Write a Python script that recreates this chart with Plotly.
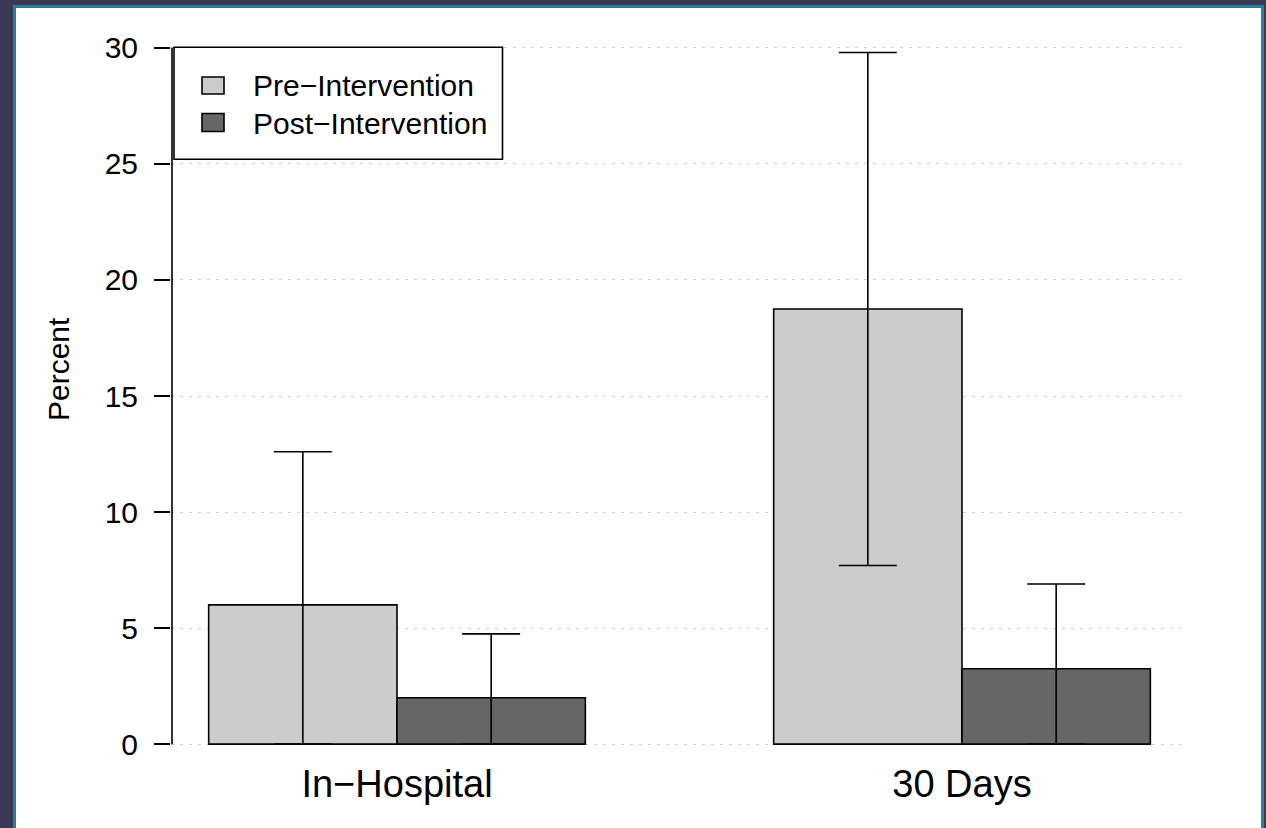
import plotly.graph_objects as go

# ---- data ----
categories = ["In−Hospital", "30 Days"]
series_names = ["Pre−Intervention", "Post−Intervention"]
pre_values = [6.0, 18.75]
pre_lower = [0.0, 7.7]
pre_upper = [12.6, 29.8]
post_values = [2.0, 3.25]
post_lower = [0.0, 0.0]
post_upper = [4.75, 6.9]
y_ticks = [0, 5, 10, 15, 20, 25, 30]
y_label = "Percent"

colors = ["#cccccc", "#666666"]

W, H = 1266, 828
L, R, T, B = 171, 78, 20, 56
PW, PH = W - L - R, H - T - B


def xp(px):
    return (px - L) / PW


def yp(py):
    return 1 - (py - T) / PH


FONT = "Liberation Sans, Arial, sans-serif"
LW = 1.6

fig = go.Figure()
for name, vals, lo, hi, col in [
    (series_names[0], pre_values, pre_lower, pre_upper, colors[0]),
    (series_names[1], post_values, post_lower, post_upper, colors[1]),
]:
    fig.add_trace(go.Bar(
        x=categories, y=vals, name=name,
        marker=dict(color=col, line=dict(color="black", width=LW)),
        error_y=dict(type="data", symmetric=False,
                     array=[h - v for h, v in zip(hi, vals)],
                     arrayminus=[v - l for v, l in zip(vals, lo)],
                     color="black", thickness=LW, width=29),
        showlegend=False,
    ))

shapes = []
# outer frame: white panel with teal border
shapes.append(dict(type="rect", xref="paper", yref="paper",
                   x0=xp(14.5), x1=xp(1262.5), y0=yp(6.5), y1=yp(840),
                   fillcolor="white", line=dict(color="#2a7f99", width=3),
                   layer="below"))
# y axis line from first to last tick
shapes.append(dict(type="line", xref="paper", yref="y",
                   x0=xp(172), x1=xp(172), y0=y_ticks[0], y1=y_ticks[-1],
                   line=dict(color="black", width=LW)))
# legend box
shapes.append(dict(type="rect", xref="paper", yref="paper",
                   x0=xp(174), x1=xp(502.5), y0=yp(159.3), y1=yp(47.3),
                   fillcolor="white", line=dict(color="black", width=LW)))
leg_rows = [(77, 94, 86), (113.5, 131.5, 123)]
annotations = []
for (top, bot, mid), name, col in zip(leg_rows, series_names, colors):
    shapes.append(dict(type="rect", xref="paper", yref="paper",
                       x0=xp(202), x1=xp(224), y0=yp(bot), y1=yp(top),
                       fillcolor=col, line=dict(color="black", width=LW)))
    annotations.append(dict(text=name, xref="paper", yref="paper",
                            x=xp(251), y=yp(mid), xanchor="left", yanchor="middle",
                            showarrow=False, font=dict(size=30, color="black", family=FONT)))

annotations.append(dict(text=y_label, xref="paper", yref="paper",
                        x=xp(58), y=yp(369), xanchor="center", yanchor="middle",
                        textangle=-90, showarrow=False,
                        font=dict(size=30, color="black", family=FONT)))

fig.update_layout(
    width=W, height=H,
    margin=dict(l=L, r=R, t=T, b=B, pad=0),
    paper_bgcolor="#3c3955",
    plot_bgcolor="rgba(0,0,0,0)",
    barmode="group", bargap=1/3, bargroupgap=0,
    shapes=shapes, annotations=annotations,
    font=dict(family=FONT, color="black"),
    xaxis=dict(range=[-0.4, 1.4], showgrid=False, showline=False, zeroline=False,
               ticks="", tickfont=dict(size=38, family=FONT, color="black"),
               ticklabelstandoff=-14),
    yaxis=dict(range=[-1.2, 31.2], tickvals=y_ticks, ticks="outside", ticklen=16,
               tickwidth=LW, tickcolor="black", showline=False, zeroline=False,
               showgrid=True, gridcolor="#cfcfcf", gridwidth=1.3, griddash="3px,6px",
               tickfont=dict(size=30, family=FONT, color="black"),
               ticklabelstandoff=10),
)

fig.write_html("out.html")
